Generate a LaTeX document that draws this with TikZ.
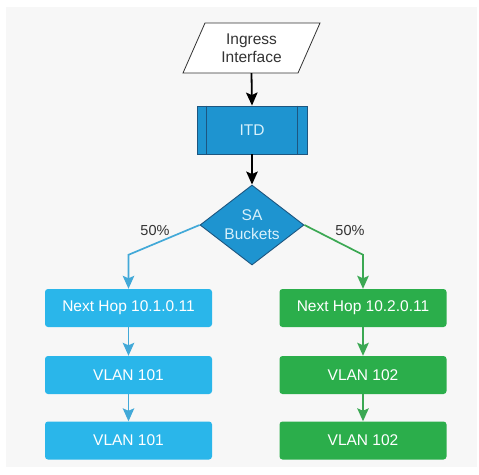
\documentclass[tikz,border=0pt]{standalone}
\usepackage{fontspec}
\setmainfont{Liberation Sans}
\usetikzlibrary{shapes.geometric,arrows.meta}
\definecolor{panel}{HTML}{F7F7F7}
\definecolor{itdblue}{HTML}{1E94D0}
\definecolor{darkedge}{HTML}{1D5680}
\definecolor{lighttext}{HTML}{D8F1FB}
\definecolor{boxblue}{HTML}{2AB6EA}
\definecolor{boxgreen}{HTML}{2BAE4B}
\definecolor{arrblue}{HTML}{42A9D8}
\definecolor{arrgreen}{HTML}{3BA853}
\definecolor{txtdark}{HTML}{333333}
\tikzset{
  lbl/.style={font=\fontsize{15.5}{18}\selectfont, text=txtdark},
  flowbox/.style={rectangle, rounded corners=3pt, minimum width=167pt, minimum height=38pt,
    inner sep=0pt, text=white, font=\fontsize{15.5}{18}\selectfont},
  bluebox/.style={flowbox, fill=boxblue},
  greenbox/.style={flowbox, fill=boxgreen},
  tip/.style={-{Stealth[width=11.5pt,length=13pt,inset=2.5pt]}},
  blackarrow/.style={tip, draw=black, line width=1.8pt},
  bluearrow/.style={tip, draw=arrblue, line width=1.7pt},
  greenarrow/.style={tip, draw=arrgreen, line width=1.7pt},
}
\begin{document}
\begin{tikzpicture}[x=1pt,y=-1pt]
\useasboundingbox (0,0) rectangle (479,474);
\fill[white] (0,0) rectangle (479,474);
\fill[panel] (6,7) rectangle (477,467);

% Ingress interface (parallelogram)
\draw[fill=white, draw=txtdark, line width=0.8pt] (205,23) -- (320,23) -- (298,73) -- (183,73) -- cycle;
\node[lbl, align=center, minimum height=50pt, inner sep=0pt] (ingress) at (251.5,48) {Ingress\\Interface};

% ITD
\node[rectangle, fill=itdblue, draw=darkedge, line width=0.9pt, minimum width=110pt, minimum height=48pt,
  inner sep=0pt, text=lighttext, font=\fontsize{15.5}{18}\selectfont] (itd) at (252,130) {ITD};
\draw[darkedge, line width=0.9pt] ([xshift=10pt]itd.north west) -- ([xshift=10pt]itd.south west);
\draw[darkedge, line width=0.9pt] ([xshift=-10pt]itd.north east) -- ([xshift=-10pt]itd.south east);

% SA Buckets
\node[diamond, fill=itdblue, draw=darkedge, line width=0.9pt, minimum width=104pt, minimum height=80pt,
  inner sep=0pt, aspect=1.3, text=lighttext, align=center, font=\fontsize{15.5}{19}\selectfont] (sa) at (252,225) {SA\\Buckets};

% Boxes
\node[bluebox] (nh1) at (128.5,308) {Next Hop 10.1.0.11};
\node[bluebox] (v1a) at (128.5,375) {VLAN 101};
\node[bluebox] (v1b) at (128.5,440.5) {VLAN 101};
\node[greenbox] (nh2) at (363,308) {Next Hop 10.2.0.11};
\node[greenbox] (v2a) at (363,375) {VLAN 102};
\node[greenbox] (v2b) at (363,440.5) {VLAN 102};

% Labels
\node[lbl, font=\fontsize{14.5}{17}\selectfont] (pl) at (155,231) {50\%};
\node[lbl, font=\fontsize{14.5}{17}\selectfont] (pr) at (350,231) {50\%};

% Connectors
\draw[blackarrow] (ingress.south) -- (itd.north);
\draw[blackarrow] (itd.south) -- (sa.north);
\draw[bluearrow] (sa.west) -- ([yshift=34pt]nh1.north) -- (nh1.north);
\draw[greenarrow] (sa.east) -- ([yshift=34pt]nh2.north) -- (nh2.north);
\draw[bluearrow] (nh1.south) -- (v1a.north);
\draw[bluearrow] (v1a.south) -- (v1b.north);
\draw[greenarrow] (nh2.south) -- (v2a.north);
\draw[greenarrow] (v2a.south) -- (v2b.north);
\end{tikzpicture}
\end{document}
